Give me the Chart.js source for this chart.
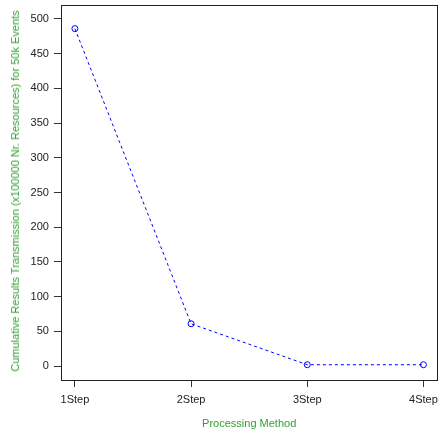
<!DOCTYPE html>
<html>
<head>
<meta charset="utf-8">
<script src="https://cdn.jsdelivr.net/npm/chart.js@4.4.1/dist/chart.umd.min.js"></script>
<style>
  html, body { margin: 0; padding: 0; background: #fff; }
  #wrap { width: 444px; height: 436px; position: relative; }
  #ytitle {
    position: absolute; left: 15px; top: 191px;
    transform: translate(-50%, -50%) rotate(-90deg);
    white-space: nowrap;
    font: 11px 'Liberation Sans', Arial, Helvetica, sans-serif;
    color: #33a033;
  }
</style>
</head>
<body>
<div id="wrap"><canvas id="c" width="444" height="436"></canvas><div id="ytitle"></div></div>
<script>
const categories = ["1Step", "2Step", "3Step", "4Step"];
const values = [486, 61, 2, 2];
const yTicks = [0, 50, 100, 150, 200, 250, 300, 350, 400, 450, 500];
const xTitle = "Processing Method";
const yTitle = "Cumulative Results Transmission (x100000 Nr. Resources) for 50k Events";

const FONT = "'Liberation Sans', Arial, Helvetica, sans-serif";
const green = "#33a033";
document.getElementById('ytitle').textContent = yTitle;

const boxPlugin = {
  id: 'plotFrame',
  afterDatasetsDraw(chart) {
    const a = chart.chartArea, ctx = chart.ctx;
    ctx.save();
    ctx.strokeStyle = '#222';
    ctx.lineWidth = 1;
    ctx.setLineDash([]);
    ctx.strokeRect(Math.round(a.left) + 0.5, Math.round(a.top) + 0.5,
                   Math.round(a.right - a.left), Math.round(a.bottom - a.top));
    ctx.restore();
  }
};

new Chart(document.getElementById('c'), {
  type: 'line',
  data: {
    datasets: [{
      data: values.map((v, i) => ({ x: i + 1, y: v })),
      borderColor: '#0000ff', borderWidth: 1, borderDash: [3, 3],
      pointRadius: 3, pointBorderWidth: 1, pointBorderColor: '#0000ff',
      pointBackgroundColor: 'rgba(0,0,0,0)', fill: false, tension: 0
    }]
  },
  options: {
    responsive: false, animation: false,
    layout: { padding: { top: 2, right: 1.5, left: 25.6, bottom: 0 } },
    plugins: { legend: { display: false }, tooltip: { enabled: false } },
    scales: {
      x: {
        type: 'linear', min: 0.88, max: 4.12,
        afterBuildTicks(s) { s.ticks = categories.map((c, i) => ({ value: i + 1 })); },
        afterFit(s) { s.height = 56; },
        border: { display: false },
        grid: { drawOnChartArea: false, tickLength: 7, color: '#333' },
        ticks: { callback: (v) => categories[v - 1], font: { family: FONT, size: 11 }, color: '#222', padding: 6, maxRotation: 0, autoSkip: false },
        title: { display: true, text: xTitle, color: green, font: { family: FONT, size: 11 }, padding: { top: 0, bottom: 5 } }
      },
      y: {
        type: 'linear', min: -20, max: 520,
        afterBuildTicks(s) { s.ticks = yTicks.map(v => ({ value: v })); },
        afterFit(s) { s.paddingTop = 0; s.paddingBottom = 0; },
        border: { display: false },
        grid: { drawOnChartArea: false, tickLength: 7, color: '#333' },
        ticks: { font: { family: FONT, size: 11 }, color: '#222', padding: 5 },
        title: { display: false }
      }
    }
  },
  plugins: [boxPlugin]
});
</script>
</body>
</html>
